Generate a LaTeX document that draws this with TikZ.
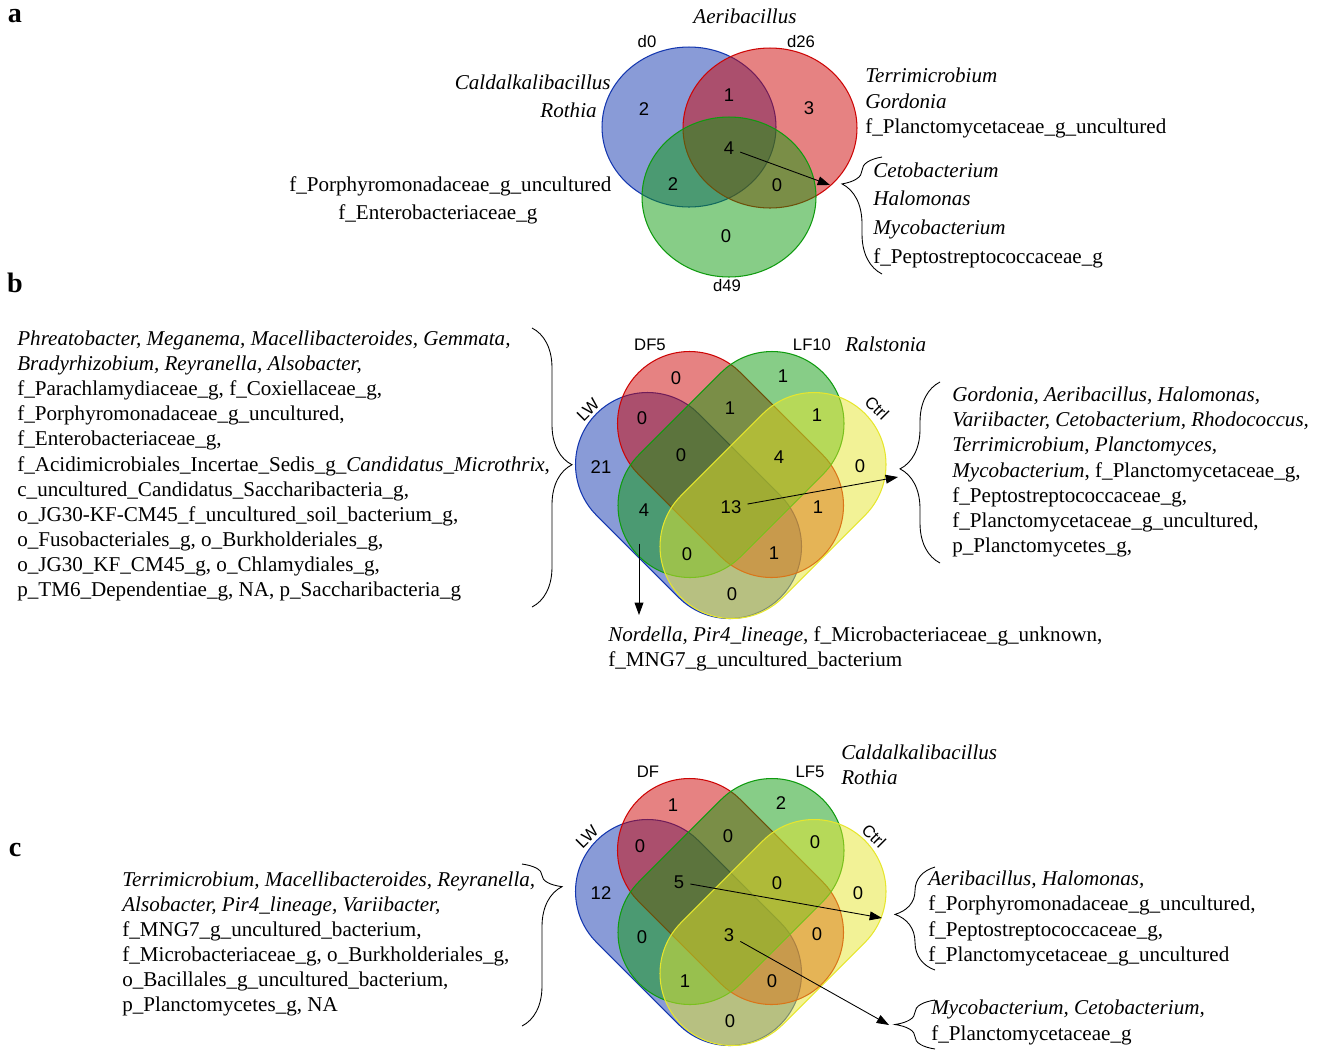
\documentclass[tikz,border=0pt]{standalone}
\usepackage{fontspec}
\setmainfont{Liberation Serif}
\setsansfont{Liberation Sans}
\usetikzlibrary{shapes.misc,shapes.geometric,arrows.meta,decorations.pathreplacing}
\definecolor{vblue}{RGB}{20,55,175}
\definecolor{vred}{RGB}{205,5,5}
\definecolor{vgreen}{RGB}{15,155,15}
\definecolor{vyellow}{RGB}{230,230,45}

\begin{document}
\begin{tikzpicture}[x=0.02cm, y={(0cm,-0.02cm)},
    txt/.style={font=\fontsize{12}{14.3}\selectfont, inner sep=0pt, align=left},
    num/.style={font=\sffamily\fontsize{10.5}{12}\selectfont},
    setlbl/.style={font=\sffamily\fontsize{9.5}{11}\selectfont},
    panel/.style={font=\bfseries\fontsize{16}{18}\selectfont},
    pill/.style={rounded rectangle, minimum width=5.2cm, minimum height=2.88cm, inner sep=0pt, fill opacity=0.5, line width=0.6pt},
    ring/.style={ellipse, minimum width=3.48cm, minimum height=3.2cm, inner sep=0pt, fill opacity=0.5, line width=0.6pt},
    arr/.style={-{Triangle[length=7pt,width=5pt]}, line width=0.5pt},
    brc/.style={decorate, decoration={brace, amplitude=0.8cm, aspect=#1}, line width=0.5pt}]
    \useasboundingbox (0,0) rectangle (1322,1049);

    % panel a
    \node[panel] (pa) at (15,16) {a};
    \node[ring, fill=vblue, draw=vblue] (d0) at (689,127) {};
    \node[ring, fill=vred, draw=vred] (d26) at (770,128) {};
    \node[ring, fill=vgreen, draw=vgreen] (d49) at (729,197) {};
    \node[setlbl] (l_d0) at (647,42) {d0};
    \node[setlbl] (l_d26) at (801,42) {d26};
    \node[setlbl] (l_d49) at (727,286) {d49};
    \node[num] (na_d0) at (644,109) {2};
    \node[num] (na_d0_d26) at (729,95) {1};
    \node[num] (na_d26) at (809,108) {3};
    \node[num] (na_all) at (729,148) {4};
    \node[num] (na_d0_d49) at (673,184) {2};
    \node[num] (na_d26_d49) at (777,185) {0};
    \node[num] (na_d49) at (726,236) {0};
    \node[txt] (a_top) at (745,16) {\textit{Aeribacillus}};
    \node[txt, anchor=east] (a_cald) at (611,82) {\textit{Caldalkalibacillus}};
    \node[txt, anchor=east] (a_roth) at (597,110) {\textit{Rothia}};
    \node[txt, anchor=west] (a_right) at (865,103) {\textit{Terrimicrobium}\\\textit{Gordonia}\\f\_Planctomycetaceae\_g\_uncultured};
    \node[txt, anchor=west] (a_porph) at (289,186) {f\_Porphyromonadaceae\_g\_uncultured};
    \node[txt, anchor=west] (a_entero) at (338,214) {f\_Enterobacteriaceae\_g};
    \node[txt, anchor=west, font=\fontsize{12}{16.3}\selectfont] (a_shared) at (873,215) {\textit{Cetobacterium}\\\textit{Halomonas}\\\textit{Mycobacterium}\\f\_Peptostreptococcaceae\_g};
    \coordinate (a_tip) at (830,185);
    \draw[arr] (na_all) -- (a_tip);
    \draw[brc=0.77] (882,274) -- (882,157);

    % panel b
    \node[panel] (pb) at (15,283) {b};
    \node[pill, rotate=-45, fill=vblue, draw=vblue] (b_LW) at (688.5,505.5) {};
    \node[pill, rotate=-45, fill=vred, draw=vred] (b_DF5) at (730.5,464.5) {};
    \node[pill, rotate=45, fill=vgreen, draw=vgreen] (b_LF10) at (731,464.5) {};
    \node[pill, rotate=45, fill=vyellow, draw=vyellow] (b_Ctrl) at (773,505.5) {};
    \node[setlbl] (l_bDF5) at (650,345) {DF5};
    \node[setlbl] (l_bLF10) at (812,345) {LF10};
    \node[setlbl, rotate=45] (l_bLW) at (588,410) {LW};
    \node[setlbl, rotate=-45] (l_bCtrl) at (877,408) {Ctrl};
    \node[num] (nb_DF) at (676,378) {0};
    \node[num] (nb_LF) at (783,376) {1};
    \node[num] (nb_LW_DF) at (642,418) {0};
    \node[num] (nb_DF_LF) at (730,408) {1};
    \node[num] (nb_LF_Ct) at (817,415) {1};
    \node[num] (nb_LW) at (601,467) {21};
    \node[num] (nb_LW_DF_LF) at (681,455) {0};
    \node[num] (nb_DF_LF_Ct) at (779,457) {4};
    \node[num] (nb_Ct) at (860,466) {0};
    \node[num] (nb_LW_LF) at (644,510) {4};
    \node[num] (nb_all) at (731,507) {13};
    \node[num] (nb_DF_Ct) at (818,507) {1};
    \node[num] (nb_LW_LF_Ct) at (687,554) {0};
    \node[num] (nb_LW_DF_Ct) at (774,553) {1};
    \node[num] (nb_LW_Ct) at (732,594) {0};
    \node[txt, anchor=west] (b_ral) at (845,344) {\textit{Ralstonia}};
    \node[txt, anchor=west] (b_left) at (17,466) {\textit{Phreatobacter, Meganema, Macellibacteroides, Gemmata,}\\
        \textit{Bradyrhizobium, Reyranella, Alsobacter,}\\
        f\_Parachlamydiaceae\_g, f\_Coxiellaceae\_g,\\
        f\_Porphyromonadaceae\_g\_uncultured,\\
        f\_Enterobacteriaceae\_g,\\
        f\_Acidimicrobiales\_Incertae\_Sedis\_g\_\textit{Candidatus\_Microthrix},\\
        c\_uncultured\_Candidatus\_Saccharibacteria\_g,\\
        o\_JG30-KF-CM45\_f\_uncultured\_soil\_bacterium\_g,\\
        o\_Fusobacteriales\_g, o\_Burkholderiales\_g,\\
        o\_JG30\_KF\_CM45\_g, o\_Chlamydiales\_g,\\
        p\_TM6\_Dependentiae\_g, NA, p\_Saccharibacteria\_g};
    \node[txt, anchor=west] (b_right) at (952,472) {\textit{Gordonia, Aeribacillus, Halomonas,}\\
        \textit{Variibacter, Cetobacterium, Rhodococcus,}\\
        \textit{Terrimicrobium, Planctomyces,}\\
        \textit{Mycobacterium}, f\_Planctomycetaceae\_g,\\
        f\_Peptostreptococcaceae\_g,\\
        f\_Planctomycetaceae\_g\_uncultured,\\
        p\_Planctomycetes\_g,};
    \node[txt, anchor=west] (b_bottom) at (608,648.5) {\textit{Nordella, Pir4\_lineage,} f\_Microbacteriaceae\_g\_unknown,\\
        f\_MNG7\_g\_uncultured\_bacterium};
    \coordinate (b_tipR) at (898,477);
    \coordinate (b_tipD) at (639,615);
    \draw[arr] (nb_all) -- (b_tipR);
    \draw[arr, shorten <=12pt] (nb_LW_LF.south -| b_tipD) -- (b_tipD);
    \draw[brc=0.49] (532,328) -- (532,607);
    \draw[brc=0.52] (940,563) -- (940,382);

    % panel c
    \node[panel] (pc) at (15,850) {c};
    \node[pill, rotate=-45, fill=vblue, draw=vblue] (c_LW) at (688.5,932.5) {};
    \node[pill, rotate=-45, fill=vred, draw=vred] (c_DF) at (730.5,891.5) {};
    \node[pill, rotate=45, fill=vgreen, draw=vgreen] (c_LF5) at (731,891.5) {};
    \node[pill, rotate=45, fill=vyellow, draw=vyellow] (c_Ctrl) at (773,932.5) {};
    \node[setlbl] (l_cDF) at (648,772) {DF};
    \node[setlbl] (l_cLF5) at (810,772) {LF5};
    \node[setlbl, rotate=45] (l_cLW) at (587,837) {LW};
    \node[setlbl, rotate=-45] (l_cCtrl) at (874,836) {Ctrl};
    \node[num] (nc_DF) at (673,805) {1};
    \node[num] (nc_LF) at (781,803) {2};
    \node[num] (nc_LW_DF) at (640,846) {0};
    \node[num] (nc_DF_LF) at (728,836) {0};
    \node[num] (nc_LF_Ct) at (815,842) {0};
    \node[num] (nc_LW) at (601,893) {12};
    \node[num] (nc_LW_DF_LF) at (679,882) {5};
    \node[num] (nc_DF_LF_Ct) at (777,883) {0};
    \node[num] (nc_Ct) at (858,893) {0};
    \node[num] (nc_LW_LF) at (642,937) {0};
    \node[num] (nc_all) at (729,935) {3};
    \node[num] (nc_DF_Ct) at (817,934) {0};
    \node[num] (nc_LW_LF_Ct) at (685,981) {1};
    \node[num] (nc_LW_DF_Ct) at (772,981) {0};
    \node[num] (nc_LW_Ct) at (730,1021) {0};
    \node[txt, anchor=west] (c_top) at (841,765) {\textit{Caldalkalibacillus}\\\textit{Rothia}};
    \node[txt, anchor=west] (c_left) at (122,944) {\textit{Terrimicrobium, Macellibacteroides, Reyranella,}\\
        \textit{Alsobacter, Pir4\_lineage, Variibacter,}\\
        f\_MNG7\_g\_uncultured\_bacterium,\\
        f\_Microbacteriaceae\_g, o\_Burkholderiales\_g,\\
        o\_Bacillales\_g\_uncultured\_bacterium,\\
        p\_Planctomycetes\_g, NA};
    \node[txt, anchor=west] (c_right1) at (928,918.5) {\textit{Aeribacillus, Halomonas,}\\
        f\_Porphyromonadaceae\_g\_uncultured,\\
        f\_Peptostreptococcaceae\_g,\\
        f\_Planctomycetaceae\_g\_uncultured};
    \node[txt, anchor=west] (c_right2) at (931,1022.5) {\textit{Mycobacterium, Cetobacterium,}\\
        f\_Planctomycetaceae\_g};
    \coordinate (c_tipA) at (882,918);
    \coordinate (c_tipB) at (889,1025);
    \draw[arr] (nc_LW_DF_LF) -- (c_tipA);
    \draw[arr] (nc_all) -- (c_tipB);
    \draw[brc=0.14] (522,864) -- (522,1026);
    \draw[brc=0.54] (935,970) -- (935,867);
    \draw[brc=0.5] (935,1049) -- (935,1000);
\end{tikzpicture}
\end{document}
